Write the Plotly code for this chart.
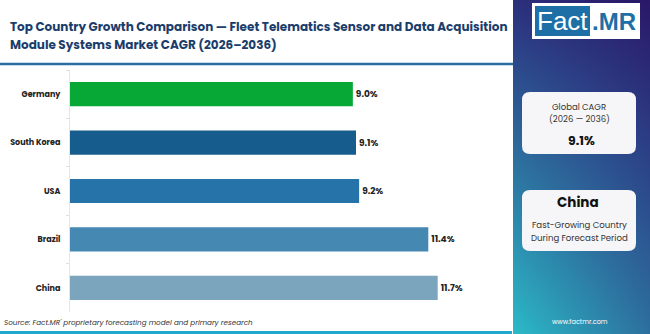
import plotly.graph_objects as go

countries = ["Germany", "South Korea", "USA", "Brazil", "China"]
cagr = [9.0, 9.1, 9.2, 11.4, 11.7]
bar_colors = ["#08a837", "#165d8e", "#2573a8", "#4589b3", "#7aa5bc"]
labels = ["9.0%", "9.1%", "9.2%", "11.4%", "11.7%"]

W, H = 650, 334
def px(x): return x / W
def py(y): return 1 - y / H

fig = go.Figure()

# Right panel diagonal gradient (decorative heatmap)
fig.add_trace(go.Heatmap(
    z=[[0.0, 0.45], [0.85, 1.0]], x=[0, 1], y=[0, 1],
    colorscale=[[0, "#2bbac8"], [0.45, "#2d6f9e"], [0.75, "#2c3f86"], [1, "#2a1868"]],
    zsmooth="best", showscale=False, hoverinfo="skip", xaxis="x2", yaxis="y2"))

fig.add_trace(go.Bar(
    y=countries, x=cagr, orientation="h",
    marker=dict(color=bar_colors, line=dict(width=0)),
    text=labels, textposition="outside", cliponaxis=False,
    textfont=dict(family="Poppins, Inter, sans-serif", size=9, color="#222222", weight="bold"),
    width=0.5, hoverinfo="skip"))

fig.update_layout(
    width=W, height=H, margin=dict(l=0, r=0, t=0, b=0),
    paper_bgcolor="white", plot_bgcolor="white", showlegend=False,
    xaxis=dict(domain=[px(70), px(510)], range=[0, 14], visible=False, fixedrange=True),
    yaxis=dict(domain=[py(312), py(70)], autorange="reversed", showgrid=False,
               showline=True, linecolor="#e6e6e6", linewidth=1,
               ticks="outside", ticklen=3, tickcolor="#e0e0e0", tickson="boundaries",
               ticklabelstandoff=7,
               tickfont=dict(family="Poppins, Inter, sans-serif", size=8, color="#222222", weight="bold")),
    xaxis2=dict(domain=[px(513), 1], range=[0, 1], visible=False, fixedrange=True),
    yaxis2=dict(domain=[0, 1], range=[0, 1], visible=False, fixedrange=True),
)

def rounded(x0, y0, x1, y1, r):
    X0, X1 = px(x0), px(x1)
    Y0, Y1 = py(y1), py(y0)
    rx, ry = r / W, r / H
    return (f"M {X0+rx},{Y0} L {X1-rx},{Y0} Q {X1},{Y0} {X1},{Y0+ry} "
            f"L {X1},{Y1-ry} Q {X1},{Y1} {X1-rx},{Y1} L {X0+rx},{Y1} "
            f"Q {X0},{Y1} {X0},{Y1-ry} L {X0},{Y0+ry} Q {X0},{Y0} {X0+rx},{Y0} Z")

shapes = [
    dict(type="line", xref="paper", yref="paper", x0=0, x1=px(513), y0=py(64), y1=py(64),
         line=dict(color="#2a6fa0", width=2.5)),
    dict(type="rect", xref="paper", yref="paper", x0=0, x1=px(512), y0=0, y1=py(331),
         fillcolor="#1fa9cc", line=dict(width=0)),
    dict(type="rect", xref="paper", yref="paper", x0=px(532), x1=px(640), y0=py(39), y1=py(3),
         fillcolor="white", line=dict(width=0)),
    dict(type="rect", xref="paper", yref="paper", x0=px(535), x1=px(590), y0=py(36), y1=py(6),
         fillcolor="#1d6fa6", line=dict(width=0)),
    dict(type="path", xref="paper", yref="paper", path=rounded(522, 92, 636, 154, 8),
         fillcolor="#f6f6f8", line=dict(width=0)),
    dict(type="path", xref="paper", yref="paper", path=rounded(522, 190, 636, 251, 8),
         fillcolor="#f6f6f8", line=dict(width=0)),
]
fig.update_layout(shapes=shapes)

F = "Poppins, Inter, sans-serif"
ann = [
    dict(x=px(8), y=py(26), text="<b>Top Country Growth Comparison — Fleet Telematics Sensor and Data Acquisition</b>",
         xanchor="left", yanchor="middle", font=dict(family=F, size=12, color="#1b3d6b")),
    dict(x=px(8), y=py(44), text="<b>Module Systems Market CAGR (2026–2036)</b>",
         xanchor="left", yanchor="middle", font=dict(family=F, size=12, color="#1b3d6b")),
    dict(x=px(562.5), y=py(21), text="Fact", xanchor="center", yanchor="middle",
         font=dict(family="Liberation Sans, Arial, sans-serif", size=26, color="white")),
    dict(x=px(614), y=py(21), text="<b>.MR</b>", xanchor="center", yanchor="middle",
         font=dict(family="Liberation Sans, Arial, sans-serif", size=24, color="#1d6fa6")),
    dict(x=px(579), y=py(107), text="Global CAGR", xanchor="center", yanchor="middle",
         font=dict(family=F, size=8.5, color="#333333")),
    dict(x=px(579), y=py(119), text="(2026 — 2036)", xanchor="center", yanchor="middle",
         font=dict(family=F, size=8.5, color="#333333")),
    dict(x=px(581), y=py(140), text="<b>9.1%</b>", xanchor="center", yanchor="middle",
         font=dict(family=F, size=12.5, color="#111111")),
    dict(x=px(578), y=py(202), text="<b>China</b>", xanchor="center", yanchor="middle",
         font=dict(family=F, size=13.5, color="#111111")),
    dict(x=px(579), y=py(225), text="Fast-Growing Country", xanchor="center", yanchor="middle",
         font=dict(family=F, size=8.6, color="#333333")),
    dict(x=px(579), y=py(238), text="During Forecast Period", xanchor="center", yanchor="middle",
         font=dict(family=F, size=8.6, color="#333333")),
    dict(x=px(580), y=py(321), text="www.factmr.com", xanchor="center", yanchor="middle",
         font=dict(family=F, size=6.5, color="white")),
    dict(x=px(2), y=py(322), text="<i>Source: Fact.MR' proprietary forecasting model and primary research</i>",
         xanchor="left", yanchor="middle", font=dict(family=F, size=7.2, color="#333333")),
]
for a in ann:
    a.update(xref="paper", yref="paper", showarrow=False)
fig.update_layout(annotations=ann)

fig.write_html("out.html")
